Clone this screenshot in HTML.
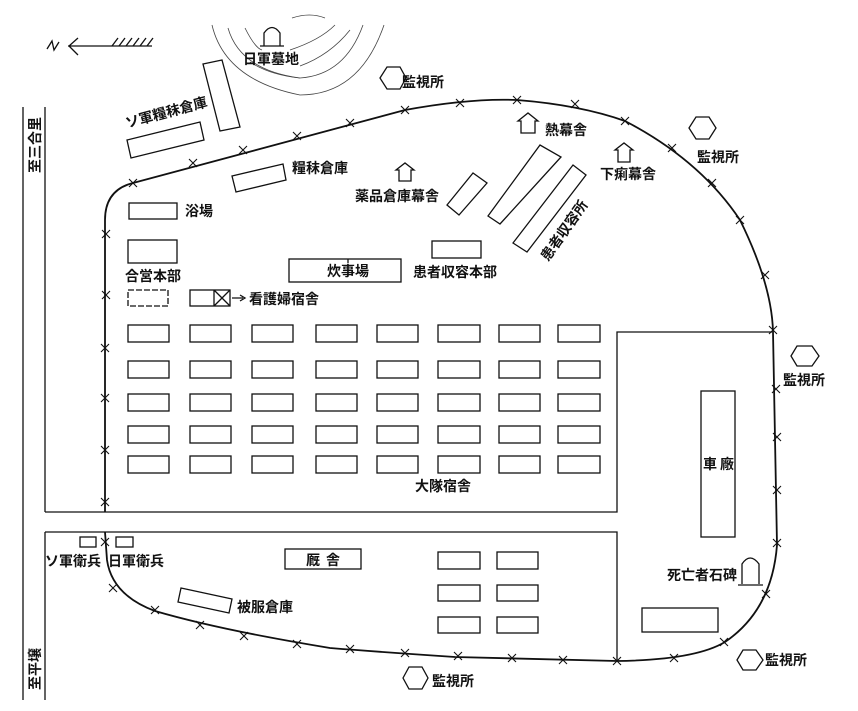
<!DOCTYPE html>
<html><head><meta charset="utf-8">
<style>
html,body{margin:0;padding:0;background:#fff;}
svg{display:block;}
text{font-family:"Liberation Sans","Noto Sans CJK JP",sans-serif;font-size:14px;font-weight:bold;fill:#111;}
</style></head>
<body>
<svg width="858" height="711" viewBox="0 0 858 711" xmlns="http://www.w3.org/2000/svg">
<defs><path id="xm" d="M-4,-4 L4,4 M4,-4 L-4,4"/></defs>
<g fill="none" stroke="#111" stroke-width="1.3">
<path d="M47,49 L52,41 L54,50 L59,42"/>
<path d="M68,46 L152,46 M78,38 L69,46 L78,55"/>
<path d="M112,46 L118,38 M119,46 L125,38 M126,46 L132,38 M133,46 L139,38 M140,46 L146,38 M147,46 L153,38"/>
<path d="M23,107 L23,700"/>
<path d="M45,107 L45,512 M45,532 L45,700"/>
<path d="M45,512 L617,512 L617,332 L772,332"/>
<path d="M45,532 L617,532 L617,661"/>
<g stroke-width="0.8" stroke="#444">
<path d="M212,25 Q225,80 300,95 Q360,95 384,25"/>
<path d="M228,28 Q240,70 300,78 Q345,75 363,25"/>
<path d="M245,28 Q255,48 262,50"/>
<path d="M290,50 Q320,40 335,25"/>
<path d="M300,66 Q330,55 350,30"/>
<path d="M250,62 Q270,75 300,78"/>
<path d="M292,18 Q310,12 325,18"/>
</g>
<path stroke-width="1.8" d="M105,512 L105,220 Q105,190 133,183 L405,110 Q470,98 517,100 Q580,105 625,121 Q700,160 740,220 Q772,285 773,332 L777,545 Q772,610 725,642 Q695,660 617,661 L455,657 Q380,652 330,648 Q220,630 155,611 Q112,595 107,560 L105,532"/>
<polygon points="127,140 200,122 204,140 131,158"/>
<polygon points="203,64 222,60 240,127 220,131"/>
<polygon points="232,176 283,164 286,180 236,192"/>
<rect x="129" y="203" width="48" height="16"/>
<rect x="128" y="240" width="49" height="23"/>
<rect x="128" y="290" width="40" height="16" stroke-dasharray="6,2"/>
<rect x="190" y="290" width="40" height="16"/>
<path d="M214,290 L214,306 M214,290 L230,306 M230,290 L214,306"/>
<path d="M232,298 L243,298 M240,295 L245,298 L240,301"/>
<rect x="289" y="259" width="112" height="23"/>
<path d="M348,259 L348,263"/>
<rect x="432" y="241" width="49" height="17"/>
<polygon points="447,205 473,173 487,183 459,215"/>
<polygon points="488,216 540,145 561,157 500,224"/>
<polygon points="513,243 573,165 586,175 527,252"/>
<path d="M399,181 L399,170 L396,170 L405,163 L414,170 L411,170 L411,181 Z"/>
<path d="M521,133 L521,121 L518,121 L528,113 L538,121 L535,121 L535,133 Z"/>
<path d="M618,162 L618,150 L615,150 L624,143 L633,150 L630,150 L630,162 Z"/>
<path d="M264,46 L264,33 Q272,22 280,33 L280,46 M260,46 L284,46"/>
<path d="M742,584 L742,564 Q750,552 759,564 L759,584 M738,585 L763,585"/>
<polygon points="380,78 387,67 400,67 406,78 400,89 387,89"/>
<polygon points="689,128 696,117 709,117 716,128 709,139 696,139"/>
<polygon points="791,356 797,346 812,346 819,356 812,366 797,366"/>
<polygon points="403,678 409,667 422,667 428,678 422,689 409,689"/>
<polygon points="737,660 743,650 756,650 763,660 756,670 743,670"/>
<g id="row">
<rect x="128" y="325" width="41" height="17"/><rect x="190" y="325" width="41" height="17"/><rect x="252" y="325" width="41" height="17"/><rect x="316" y="325" width="41" height="17"/><rect x="377" y="325" width="41" height="17"/><rect x="438" y="325" width="42" height="17"/><rect x="499" y="325" width="41" height="17"/><rect x="558" y="325" width="42" height="17"/>
</g>
<use href="#row" y="36"/><use href="#row" y="69"/><use href="#row" y="101"/><use href="#row" y="131"/>
<rect x="285" y="549" width="76" height="20"/>
<polygon points="181,588 232,599 229,613 178,602"/>
<rect x="438" y="552" width="42" height="17"/><rect x="497" y="552" width="41" height="17"/>
<rect x="438" y="585" width="42" height="16"/><rect x="497" y="585" width="41" height="16"/>
<rect x="438" y="617" width="42" height="16"/><rect x="497" y="617" width="41" height="16"/>
<rect x="80" y="537" width="16" height="10"/><rect x="116" y="537" width="17" height="10"/>
<rect x="701" y="391" width="34" height="146"/>
<rect x="642" y="608" width="76" height="24"/>
</g>
<g stroke="#111" stroke-width="1.1" fill="none">
<use href="#xm" x="133" y="183"/><use href="#xm" x="193" y="163"/><use href="#xm" x="243" y="150"/><use href="#xm" x="297" y="136"/><use href="#xm" x="350" y="123"/><use href="#xm" x="405" y="110"/><use href="#xm" x="460" y="103"/><use href="#xm" x="517" y="100"/><use href="#xm" x="575" y="104"/><use href="#xm" x="625" y="121"/><use href="#xm" x="672" y="148"/><use href="#xm" x="712" y="183"/><use href="#xm" x="740" y="220"/><use href="#xm" x="765" y="275"/><use href="#xm" x="773" y="330"/>
<use href="#xm" x="776" y="389"/><use href="#xm" x="777" y="437"/><use href="#xm" x="777" y="490"/><use href="#xm" x="777" y="543"/><use href="#xm" x="766" y="594"/><use href="#xm" x="724" y="642"/><use href="#xm" x="674" y="658"/><use href="#xm" x="617" y="661"/><use href="#xm" x="563" y="660"/><use href="#xm" x="512" y="658"/><use href="#xm" x="458" y="656"/>
<use href="#xm" x="405" y="653"/><use href="#xm" x="350" y="649"/><use href="#xm" x="297" y="644"/><use href="#xm" x="244" y="636"/><use href="#xm" x="200" y="625"/><use href="#xm" x="155" y="610"/><use href="#xm" x="113" y="588"/><use href="#xm" x="105" y="542"/>
<use href="#xm" x="105" y="502"/><use href="#xm" x="105" y="450"/><use href="#xm" x="105" y="398"/><use href="#xm" x="105" y="348"/><use href="#xm" x="106" y="295"/><use href="#xm" x="106" y="234"/>
</g>
<text x="243" y="64">日軍墓地</text>
<text x="402" y="87">監視所</text>
<text transform="translate(127,128) rotate(-15)">ソ軍糧秣倉庫</text>
<text x="292" y="173">糧秣倉庫</text>
<text x="355" y="201">薬品倉庫幕舎</text>
<text x="545" y="135">熱幕舎</text>
<text x="600" y="179">下痢幕舎</text>
<text x="697" y="162">監視所</text>
<text transform="translate(548,262) rotate(-55)">患者収容所</text>
<text x="185" y="216">浴場</text>
<text x="125" y="281">合営本部</text>
<text x="327" y="276">炊事場</text>
<text x="413" y="277">患者収容本部</text>
<text x="249" y="304">看護婦宿舎</text>
<text x="783" y="385">監視所</text>
<text x="415" y="491">大隊宿舎</text>
<text x="703" y="469">車</text><text x="720" y="469">廠</text>
<text x="306" y="565">厩</text><text x="326" y="565">舎</text>
<text x="45" y="566">ソ軍衛兵</text>
<text x="108" y="566">日軍衛兵</text>
<text x="237" y="612">被服倉庫</text>
<text x="667" y="580">死亡者石碑</text>
<text x="765" y="665">監視所</text>
<text x="432" y="686">監視所</text>
<text transform="translate(40,173) rotate(-90)">至三合里</text>
<text transform="translate(40,690) rotate(-90)">至平壌</text>
</svg>
</body></html>
